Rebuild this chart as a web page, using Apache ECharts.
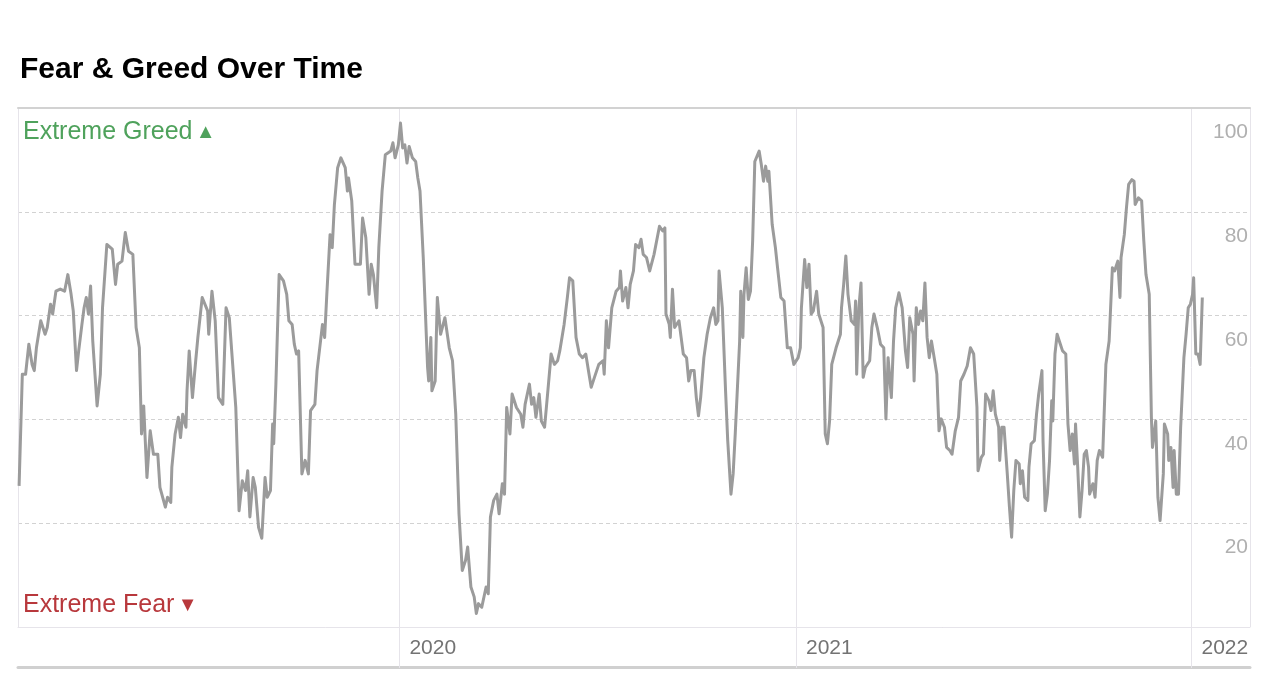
<!DOCTYPE html>
<html>
<head>
<meta charset="utf-8">
<script src="https://cdn.jsdelivr.net/npm/echarts@6/dist/echarts.min.js"></script>
<style>
html,body{margin:0;padding:0;background:#fff;}
#chart{width:1282px;height:696px;}
</style>
</head>
<body>
<div id="chart"></div>
<script>
const chartTitle = 'Fear & Greed Over Time';
const greedLabel = 'Extreme Greed';
const fearLabel = 'Extreme Fear';
const axisStart = '2019-01-14';
const axisEnd = '2022-02-24';
const yTicks = [0, 20, 40, 60, 80, 100];

const dates = [
'2019-01-15','2019-01-18','2019-01-21','2019-01-24','2019-01-27','2019-01-29','2019-01-31','2019-02-04','2019-02-08','2019-02-10',
'2019-02-13','2019-02-15','2019-02-18','2019-02-22','2019-02-26','2019-03-01','2019-03-04','2019-03-06','2019-03-09','2019-03-11',
'2019-03-14','2019-03-16','2019-03-18','2019-03-20','2019-03-22','2019-03-24','2019-03-28','2019-03-31','2019-04-02','2019-04-06',
'2019-04-11','2019-04-14','2019-04-16','2019-04-20','2019-04-23','2019-04-26','2019-04-30','2019-05-03','2019-05-06','2019-05-08',
'2019-05-10','2019-05-13','2019-05-16','2019-05-19','2019-05-23','2019-05-25','2019-05-30','2019-06-01','2019-06-04','2019-06-05',
'2019-06-08','2019-06-11','2019-06-13','2019-06-15','2019-06-18','2019-06-19','2019-06-21','2019-06-24','2019-06-27','2019-06-29',
'2019-07-03','2019-07-08','2019-07-09','2019-07-12','2019-07-15','2019-07-18','2019-07-22','2019-07-25','2019-07-28','2019-08-03',
'2019-08-06','2019-08-09','2019-08-12','2019-08-14','2019-08-16','2019-08-19','2019-08-21','2019-08-24','2019-08-27','2019-08-30',
'2019-09-01','2019-09-04','2019-09-06','2019-09-07','2019-09-09','2019-09-12','2019-09-16','2019-09-19','2019-09-21','2019-09-24',
'2019-09-26','2019-09-28','2019-09-30','2019-10-03','2019-10-06','2019-10-09','2019-10-11','2019-10-15','2019-10-17','2019-10-22',
'2019-10-24','2019-10-26','2019-10-29','2019-10-31','2019-11-02','2019-11-05','2019-11-08','2019-11-12','2019-11-14','2019-11-15',
'2019-11-18','2019-11-21','2019-11-26','2019-11-28','2019-12-01','2019-12-04','2019-12-06','2019-12-08','2019-12-11','2019-12-13',
'2019-12-16','2019-12-19','2019-12-24','2019-12-26','2019-12-28','2019-12-31',
'2020-01-02','2020-01-04','2020-01-06','2020-01-08','2020-01-10','2020-01-13','2020-01-16','2020-01-18','2020-01-20','2020-01-23',
'2020-01-27','2020-01-28','2020-01-30','2020-01-31','2020-02-03','2020-02-05','2020-02-08','2020-02-12','2020-02-16','2020-02-19',
'2020-02-22','2020-02-25','2020-02-28','2020-03-02','2020-03-04','2020-03-07','2020-03-10','2020-03-12','2020-03-14','2020-03-17',
'2020-03-21','2020-03-23','2020-03-25','2020-03-28','2020-03-31','2020-04-02','2020-04-05','2020-04-07','2020-04-09','2020-04-12',
'2020-04-14','2020-04-18','2020-04-22','2020-04-24','2020-04-26','2020-04-30','2020-05-02','2020-05-04','2020-05-06','2020-05-09',
'2020-05-11','2020-05-14','2020-05-17','2020-05-20','2020-05-23','2020-05-26','2020-05-28','2020-06-01','2020-06-04','2020-06-06',
'2020-06-09','2020-06-12','2020-06-15','2020-06-18','2020-06-21','2020-06-24','2020-06-26','2020-06-29','2020-07-03','2020-07-07',
'2020-07-08','2020-07-10','2020-07-12','2020-07-15','2020-07-19','2020-07-22','2020-07-23','2020-07-25','2020-07-28','2020-07-30',
'2020-08-01','2020-08-04','2020-08-06','2020-08-09','2020-08-11','2020-08-13','2020-08-16','2020-08-19','2020-08-23','2020-08-28',
'2020-08-31','2020-09-02','2020-09-03','2020-09-06','2020-09-07','2020-09-09','2020-09-11','2020-09-15','2020-09-17','2020-09-19',
'2020-09-22','2020-09-24','2020-09-26','2020-09-29','2020-10-01','2020-10-03','2020-10-05','2020-10-08','2020-10-11','2020-10-14',
'2020-10-17','2020-10-19','2020-10-21','2020-10-22','2020-10-25','2020-10-28','2020-10-30','2020-11-02','2020-11-04','2020-11-06',
'2020-11-10','2020-11-11','2020-11-13','2020-11-14','2020-11-16','2020-11-18','2020-11-20','2020-11-22','2020-11-24','2020-11-28',
'2020-11-30','2020-12-02','2020-12-04','2020-12-06','2020-12-07','2020-12-10','2020-12-13','2020-12-15','2020-12-18','2020-12-21',
'2020-12-24','2020-12-27','2020-12-30',
'2021-01-03','2021-01-05','2021-01-06','2021-01-09','2021-01-11','2021-01-13','2021-01-15','2021-01-17','2021-01-20','2021-01-22',
'2021-01-26','2021-01-28','2021-01-30','2021-02-01','2021-02-03','2021-02-07','2021-02-11','2021-02-12','2021-02-14','2021-02-16',
'2021-02-18','2021-02-21','2021-02-24','2021-02-25','2021-02-26','2021-02-28','2021-03-02','2021-03-04','2021-03-06','2021-03-10',
'2021-03-12','2021-03-14','2021-03-17','2021-03-20','2021-03-23','2021-03-25','2021-03-27','2021-03-30','2021-04-01','2021-04-03',
'2021-04-06','2021-04-09','2021-04-12','2021-04-14','2021-04-16','2021-04-19','2021-04-20','2021-04-22','2021-04-24','2021-04-26',
'2021-04-28','2021-04-30','2021-05-02','2021-05-04','2021-05-06','2021-05-09','2021-05-11','2021-05-13','2021-05-15','2021-05-18',
'2021-05-20','2021-05-23','2021-05-25','2021-05-28','2021-05-31','2021-06-02','2021-06-05','2021-06-08','2021-06-11','2021-06-14',
'2021-06-17','2021-06-18','2021-06-21','2021-06-23','2021-06-25','2021-06-28','2021-06-30','2021-07-02','2021-07-04','2021-07-07',
'2021-07-08','2021-07-10','2021-07-12','2021-07-15','2021-07-17','2021-07-19','2021-07-21','2021-07-23','2021-07-26','2021-07-27',
'2021-07-29','2021-07-31','2021-08-03','2021-08-04','2021-08-06','2021-08-09','2021-08-11','2021-08-13','2021-08-16','2021-08-17',
'2021-08-19','2021-08-21','2021-08-23','2021-08-25','2021-08-26','2021-08-28','2021-08-30','2021-09-01','2021-09-04','2021-09-07',
'2021-09-09','2021-09-11','2021-09-13','2021-09-15','2021-09-16','2021-09-18','2021-09-20','2021-09-22','2021-09-24','2021-09-26',
'2021-09-28','2021-09-29','2021-10-02','2021-10-04','2021-10-06','2021-10-08','2021-10-11','2021-10-12','2021-10-14','2021-10-17',
'2021-10-20','2021-10-22','2021-10-25','2021-10-27','2021-10-28','2021-10-31','2021-11-02','2021-11-04','2021-11-07','2021-11-09',
'2021-11-10','2021-11-13','2021-11-16','2021-11-18','2021-11-20','2021-11-23','2021-11-25','2021-11-26','2021-11-29','2021-12-01',
'2021-12-03','2021-12-06','2021-12-07','2021-12-10','2021-12-11','2021-12-13','2021-12-15','2021-12-16','2021-12-18','2021-12-20',
'2021-12-22','2021-12-25','2021-12-27','2021-12-29','2021-12-31',
'2022-01-02','2022-01-03','2022-01-05','2022-01-07','2022-01-09','2022-01-11'
];

const fearGreed = [
27.2,48.7,48.7,54.5,50.6,49.4,53.8,59,56.4,57.7,
62.2,60.3,64.7,65.1,64.7,67.9,64.1,60.9,49.4,53.2,
58.3,61.5,63.5,60.3,65.7,55.1,42.6,48.7,61.5,73.7,
72.8,66,69.9,70.5,76,72.4,71.8,57.7,53.8,37.2,
42.6,28.8,37.8,33.3,33.3,26.9,23.1,25,24,30.8,
37.2,40.4,36.5,41,38.5,45.5,53.2,44.2,51.3,55.8,
63.5,60.9,56.4,64.7,59,44.2,42.9,61.5,59.6,42.3,
22.4,28.2,26.3,30.1,21.2,28.8,26.9,19.2,17.1,28.8,
25,26.3,39.1,35.3,46.8,67.9,66.7,64.1,59,58.3,
54.5,52.6,53.2,29.5,32.1,29.5,41.7,42.9,49.4,58.3,
55.8,64.1,75.6,73.1,81.4,88.5,90.4,88.5,84,86.5,
82.1,69.9,69.9,78.8,75,64.1,69.9,67.9,61.5,73.1,
84,91,91.7,93.3,90.4,92.9,
97.1,92.3,92.9,89.4,92.6,90.4,89.7,86.5,84,71.2,
50,47.4,55.8,45.5,47.4,63.5,56.4,59.6,53.8,51.3,
41,21.8,10.9,12.8,15.4,7.7,5.8,2.6,4.5,3.8,
7.7,6.4,21.2,24.4,25.6,21.8,27.6,25.6,42.3,37.2,
44.9,42.3,41,38.5,42.9,46.8,42.9,44.2,40.4,44.9,
39.7,38.5,45.5,52.6,50.6,51.3,53.2,58.3,63.5,67.3,
66.7,55.8,52.6,51.9,52.6,48.7,46.2,48.1,50.6,51.3,
48.7,59,53.8,61.5,64.7,65.4,68.6,62.8,65.4,61.5,
66,68.6,73.7,73.1,74.7,71.8,71.2,68.6,71.8,77.2,
76.3,76.9,60.3,58.3,55.8,65.1,57.7,59,55.8,52.6,
51.9,47.4,49.4,49.4,44.2,40.7,44.2,51.9,56.4,59.6,
61.5,58.3,59,68.6,61.5,45.5,35.9,25.6,29.5,37.5,
55.1,64.7,55.8,64.1,69.2,63.1,64.7,74.4,89.7,91.7,
89.1,85.9,88.8,85.9,87.8,77.6,73.1,69.2,63.5,62.8,
53.8,53.8,50.6,
51.9,53.8,61.5,70.8,65.4,69.9,60.3,60.9,64.7,60.3,
57.7,37.2,35.3,39.7,50.6,53.8,56.4,61.5,66,71.5,
64.1,59,58.3,62.8,48.7,61.5,66.3,48.1,50,51.3,
57.7,60.3,57.7,54.5,53.8,40.1,51.9,44.2,55.1,61.5,
64.4,61.5,53.2,50,59.6,56.4,47.4,61.5,58.3,60.9,
59,66.3,55.8,51.9,55.1,51.3,48.7,37.8,40.1,38.5,
34.6,34,33.3,37.8,40.4,47.4,48.7,50.3,53.8,52.6,
42.3,30.1,32.7,33.3,44.9,43.6,41.7,45.5,41,38.5,
32.1,38.5,38.5,29.5,23.1,17.3,26.3,32.1,31.4,27.6,
30.1,25,24.4,30.8,35.3,35.9,41,44.9,49.4,35.9,
22.4,25.6,32.1,43.6,39.7,52.6,56.4,55.1,53.2,52.6,
39.1,34,37.2,31.4,39.1,30.8,21.2,26.3,33.3,34,
30.8,25.6,27.6,25,32.1,34,32.7,32.7,50.6,55.1,
69.2,68.6,70.5,63.5,71.2,75.6,80.8,85.3,86.2,85.9,
81.4,82.7,82.1,74.4,67.9,64.1,40.4,34.6,39.7,25,
20.5,29.5,39.1,37.2,32.1,34.6,26.9,34,25.6,25.6,
38.5,51.9,56.4,61.5,62.2,
64.1,67.3,52.6,52.6,50.6,63.5
];

const seriesData = dates.map((d, i) => [d, fearGreed[i]]);
const chart = echarts.init(document.getElementById('chart'), null, {renderer: 'canvas'});
const FONT = '"Liberation Sans", Arial, Helvetica, sans-serif';

chart.setOption({
  animation: false,
  backgroundColor: '#ffffff',
  title: {
    text: chartTitle,
    left: 15, top: 50,
    textStyle: {fontFamily: FONT, fontSize: 30, fontWeight: 'bold', color: '#000'}
  },
  grid: {left: 18, right: 32, top: 108, bottom: 69, containLabel: false},
  xAxis: [{
    type: 'time',
    min: axisStart, max: axisEnd,
    minInterval: 365 * 24 * 3600 * 1000,
    splitNumber: 3,
    axisLine: {show: true, lineStyle: {color: '#e6e4ea', width: 1}},
    axisTick: {show: true, length: 41, lineStyle: {color: '#e6e4ea', width: 1}},
    splitLine: {show: true, lineStyle: {color: '#e6e4ea', width: 1}},
    axisLabel: {
      showMinLabel: false, showMaxLabel: false,
      formatter: v => String(new Date(v).getFullYear()),
      align: 'left', padding: [0, 0, 0, 10], margin: 11,
      color: '#737373', fontFamily: FONT, fontSize: 21
    }
  }, {
    type: 'time', position: 'top',
    min: axisStart, max: axisEnd,
    axisLine: {show: true, lineStyle: {color: '#d2d2d2', width: 2}},
    axisTick: {show: false}, axisLabel: {show: false}, splitLine: {show: false}
  }, {
    type: 'time', position: 'bottom', offset: 40,
    min: axisStart, max: axisEnd,
    axisLine: {show: true, lineStyle: {color: '#d0d0d0', width: 3}},
    axisTick: {show: false}, axisLabel: {show: false}, splitLine: {show: false}
  }],
  yAxis: {
    type: 'value', position: 'right',
    min: yTicks[0], max: yTicks[yTicks.length - 1], interval: 20,
    axisLine: {show: false}, axisTick: {show: false},
    splitLine: {show: true, lineStyle: {color: '#d2d2d2', width: 1, type: [4, 3]}},
    axisLabel: {
      inside: true, showMinLabel: false, margin: 2,
      verticalAlign: 'top', padding: [14, 0, 0, 0],
      color: '#b0b0b0', fontFamily: FONT, fontSize: 21
    }
  },
  graphic: [{
    type: 'text', left: 23, top: 120,
    style: {
      text: '{t|' + greedLabel + '} {a|▲}',
      rich: {
        t: {fontFamily: FONT, fontSize: 25, fill: '#4fa25c'},
        a: {fontFamily: FONT, fontSize: 20, fill: '#4fa25c'}
      }
    }
  }, {
    type: 'text', left: 23, top: 593,
    style: {
      text: '{t|' + fearLabel + '} {a|▼}',
      rich: {
        t: {fontFamily: FONT, fontSize: 25, fill: '#b8383c'},
        a: {fontFamily: FONT, fontSize: 20, fill: '#b8383c'}
      }
    }
  }],
  series: [{
    type: 'line',
    xAxisIndex: 0,
    data: seriesData,
    showSymbol: false,
    lineStyle: {color: '#9b9b9b', width: 3, join: 'round'},
    itemStyle: {color: '#9b9b9b'}
  }]
});
</script>
</body>
</html>
